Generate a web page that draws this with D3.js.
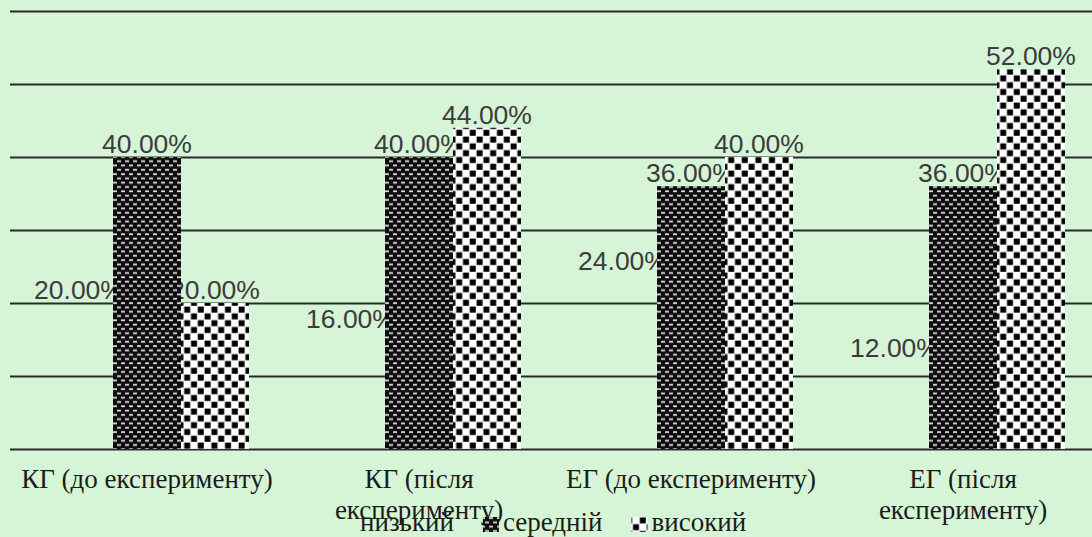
<!DOCTYPE html>
<html>
<head>
<meta charset="utf-8">
<script src="https://cdn.jsdelivr.net/npm/d3@7"></script>
<style>
  html, body { margin: 0; padding: 0; background: #d5f5d6; }
  svg { display: block; }
</style>
</head>
<body>
<svg id="chart" width="1092" height="537"></svg>
<script>
// Levels by group, in percent
const categories = ["КГ (до експерименту)", "КГ (після експерименту)", "ЕГ (до експерименту)", "ЕГ (після експерименту)"];
const seriesNames = ["низький", "середній", "високий"];
const lowValues = [20, 16, 24, 12];
const midValues = [40, 40, 36, 36];
const highValues = [20, 44, 40, 52];
const gridTicks = [0, 10, 20, 30, 40, 50, 60];

const seriesValues = [lowValues, midValues, highValues];

const W = 1092, H = 537;
const svg = d3.select("#chart");
const defs = svg.append("defs");

// Fine dotted fill for "середній"
const pMid = defs.append("pattern").attr("id", "pat-mid")
  .attr("patternUnits", "userSpaceOnUse").attr("width", 8).attr("height", 8.6);
pMid.append("rect").attr("width", 8).attr("height", 8.6).attr("fill", "#0d0d0d");
pMid.append("rect").attr("x", 1).attr("y", 1.2).attr("width", 4).attr("height", 1.8).attr("fill", "#dcdcdc");
pMid.append("rect").attr("x", 5).attr("y", 5.5).attr("width", 4).attr("height", 1.8).attr("fill", "#dcdcdc");
pMid.append("rect").attr("x", -3).attr("y", 5.5).attr("width", 4).attr("height", 1.8).attr("fill", "#dcdcdc");

// Checkerboard fill for "високий"
const cs = 6.8;
const pHigh = defs.append("pattern").attr("id", "pat-high")
  .attr("patternUnits", "userSpaceOnUse").attr("width", cs * 2).attr("height", cs * 2);
pHigh.append("rect").attr("width", cs * 2).attr("height", cs * 2).attr("fill", "#ffffff");
pHigh.append("rect").attr("x", 0.6).attr("y", 0.6).attr("width", cs - 0.8).attr("height", cs - 0.8).attr("fill", "#000");
pHigh.append("rect").attr("x", cs + 0.6).attr("y", cs + 0.6).attr("width", cs - 0.8).attr("height", cs - 0.8).attr("fill", "#000");

const fills = ["none", "url(#pat-mid)", "url(#pat-high)"];

const plotTop = 11, plotBottom = 449;
const y = d3.scaleLinear().domain([0, 60]).range([plotBottom, plotTop]);
const x0 = d3.scaleBand().domain(categories).range([11, 1099])
  .paddingInner(0.25).paddingOuter(0.125);
const x1 = d3.scaleBand().domain(seriesNames).range([0, x0.bandwidth()]).padding(0);

// Horizontal gridlines
const grid = svg.append("g").attr("transform", `translate(10,0)`)
  .call(d3.axisRight(y).tickValues(gridTicks).tickSize(W - 10).tickFormat(""));
grid.select(".domain").remove();
grid.selectAll(".tick line").attr("stroke", "#2a2a2a").attr("stroke-width", 2.2);

const rows = [];
seriesNames.forEach((s, si) => {
  categories.forEach((c, ci) => {
    rows.push({ series: s, si, cat: c, value: seriesValues[si][ci] });
  });
});

// Value labels (sit beneath the bars)
const fmt = d3.format(".2f");
svg.append("g").selectAll("text").data(rows).join("text")
  .attr("x", d => x0(d.cat) + x1(d.series) + x1.bandwidth() / 2)
  .attr("y", d => y(d.value) - 4)
  .attr("text-anchor", "middle")
  .attr("font-family", "'Liberation Sans', Arial, sans-serif")
  .attr("font-size", 26.5)
  .attr("fill", "#3c3c3c")
  .text(d => fmt(d.value) + "%");

// Bars
svg.append("g").selectAll("rect").data(rows).join("rect")
  .attr("x", d => x0(d.cat) + x1(d.series))
  .attr("y", d => y(d.value))
  .attr("width", x1.bandwidth())
  .attr("height", d => plotBottom - y(d.value))
  .attr("fill", d => fills[d.si]);

// Category labels, wrapped to the band width
const catG = svg.append("g");
categories.forEach(c => {
  const cx = x0(c) + x0.bandwidth() / 2;
  const t = catG.append("text")
    .attr("x", cx)
    .attr("y", 488)
    .attr("text-anchor", "middle")
    .attr("font-family", "'Liberation Serif', 'Times New Roman', serif")
    .attr("font-size", 27)
    .attr("fill", "#1c1c1c");
  const words = c.split(" ");
  let line = [];
  let tspan = t.append("tspan").attr("x", cx).attr("dy", 0);
  const maxW = x0.step() - 10;
  words.forEach(w => {
    line.push(w);
    tspan.text(line.join(" "));
    if (tspan.node().getComputedTextLength() > maxW && line.length > 1) {
      line.pop();
      tspan.text(line.join(" "));
      line = [w];
      tspan = t.append("tspan").attr("x", cx).attr("dy", 31).text(w);
    }
  });
});

// Legend
const legend = svg.append("g");
let lx = 340;
seriesNames.forEach((s, si) => {
  legend.append("rect")
    .attr("x", lx).attr("y", 517).attr("width", 16).attr("height", 15)
    .attr("fill", fills[si]);
  const t = legend.append("text")
    .attr("x", lx + 20).attr("y", 531)
    .attr("font-family", "'Liberation Serif', 'Times New Roman', serif")
    .attr("font-size", 27)
    .attr("fill", "#1c1c1c")
    .text(s);
  lx += 20 + t.node().getComputedTextLength() + 29;
});
</script>
</body>
</html>
